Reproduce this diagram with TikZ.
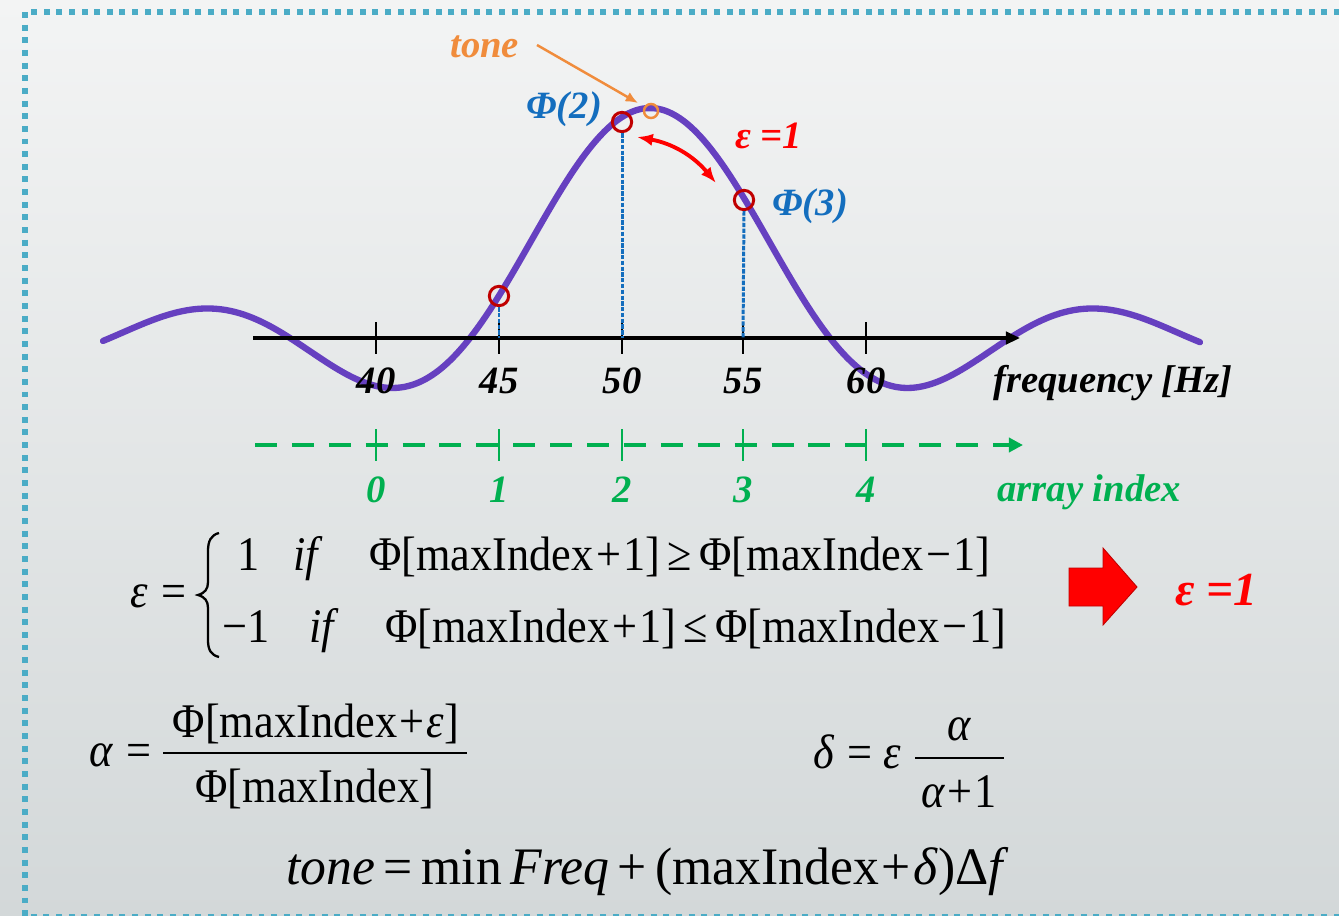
\documentclass[tikz,border=0pt]{standalone}
\usepackage{fontspec}
\setmainfont{Liberation Serif}
\usepackage{graphicx}
\usetikzlibrary{arrows.meta,calc}
\definecolor{curvecol}{RGB}{102,64,192}
\definecolor{circred}{RGB}{192,0,0}
\definecolor{toneor}{RGB}{240,140,60}
\definecolor{phiblue}{RGB}{20,110,190}
\definecolor{idxgreen}{RGB}{0,176,80}
\definecolor{frameblue}{RGB}{75,172,198}
\definecolor{bgtop}{RGB}{243,244,244}
\definecolor{bgbot}{RGB}{211,216,217}
\definecolor{arrred}{RGB}{255,0,0}
\newcommand\hsc[1]{\scalebox{0.917}[1]{#1}}
\newcommand\fpl{\kern1.5pt+\kern1.5pt}
\newcommand\fmi{\kern1.5pt−\kern1.5pt}
\tikzset{
  lab/.style={font=\fontsize{22}{26}\selectfont\bfseries\itshape, inner sep=0pt},
  fml/.style={font=\fontsize{27.5}{32}\selectfont, inner sep=0pt},
  fmlb/.style={font=\fontsize{30}{35}\selectfont, inner sep=0pt},
  framestyle/.style={draw=frameblue, line width=3.4pt, dash pattern=on 3.4pt off 3.8pt},
  axisline/.style={line width=2.5pt, -{Triangle[length=8pt,width=7pt]}},
  ticks/.style={line width=1.4pt},
  gdash/.style={idxgreen, line width=2.8pt, dash pattern=on 12.5pt off 8.5pt, -{Triangle[length=8pt,width=8pt]}},
  gtick/.style={idxgreen, line width=1.4pt},
  rc/.style={circle, draw=circred, line width=1.7pt, minimum size=11pt, inner sep=0pt},
  oc/.style={circle, draw=toneor, line width=1.4pt, minimum size=8pt, inner sep=0pt},
  bdash/.style={phiblue, line width=1.7pt, dash pattern=on 2.5pt off 0.8pt},
  orarrow/.style={toneor, line width=1.4pt, -{Latex[length=7pt,width=6pt]}},
  redarr/.style={arrred, line width=2.2pt, {Latex[length=9pt,width=7pt]}-{Latex[length=9pt,width=7pt]}},
  fbar/.style={line width=1.1pt},
}
\begin{document}
\begin{tikzpicture}[x=0.02cm,y=-0.02cm]
\useasboundingbox (0,0) rectangle (1339,916);
\clip (0,0) rectangle (1339,916);
\shade[top color=bgtop,bottom color=bgbot] (0,0) rectangle (1339,916);
\draw[framestyle] (25,12) rectangle (1365,917);

% curve
\draw[curvecol, line width=3.6pt, line cap=round] plot[domain=103:1200, samples=221, smooth] (\x,{338-230*sin(\x-650)/(pi*(\x-650)/180)});

% axis
\coordinate (axs) at (253,338);
\coordinate (axe) at (1020,338);
\draw[axisline] (axs) -- (axe);
\coordinate (gs) at (255,445);
\coordinate (ge) at (1023,445);
\draw[gdash] (gs) -- (ge);
\foreach \xx/\f/\i in {376/40/0, 499/45/1, 622/50/2, 743/55/3, 866/60/4} {
  \coordinate (t\f) at (\xx,338);
  \draw[ticks] (\xx,322) -- (\xx,354);
  \draw[gtick] (\xx,429) -- (\xx,461);
  \node[lab, anchor=base] (lf\f) at (\xx,393) {\f};
  \node[lab, anchor=base, text=idxgreen] (li\i) at (\xx,502) {\i};
}
\node[lab, anchor=base west] (freq) at (993,392) {frequency [\textit{Hz}]};
\node[lab, anchor=base west, text=idxgreen] (aidx) at (997,501) {array index};

% circles
\node[rc] (c1) at (499,296) {};
\node[rc] (c2) at (622,122) {};
\node[rc] (c3) at (744,200) {};
\node[oc] (ct) at (651,111) {};
\draw[bdash] (c1.south) -- (t45);
\draw[bdash] (c2.south) -- (t50);
\draw[bdash] (c3.south) -- (t55);

% labels top
\node[lab, anchor=base west, text=toneor] (tonelab) at (450,57) {tone};
\node[lab, anchor=base west, text=phiblue] (phi2) at (526,118) {Φ(2)};
\node[lab, anchor=base west, text=phiblue] (phi3) at (772,215) {Φ(3)};
\node[lab, anchor=base west, text=arrred] (eps1) at (735,148) {ε =1};
\coordinate (oa) at (537,45);
\coordinate (ob) at (638,103);
\draw[orarrow] (oa) -- (ob);
\coordinate (ea) at (637,137);
\coordinate (eb) at (716,183);
\draw[redarr] (ea) to[bend left=20] (eb);

% formula 1
\node[fml, anchor=base west] (epsl) at (130,607) {\hsc{\textit{ε}}};
\node[fml, anchor=base west] (eq1) at (161,607) {\hsc{=}};
\draw[line width=1.3pt] (219,533) .. controls (211,535) and (208,541) .. (208,551) -- (208,582) .. controls (208,589) and (205,593) .. (198,595) .. controls (205,597) and (208,601) .. (208,608) -- (208,640) .. controls (208,650) and (211,655) .. (219,657);
\node[fml, anchor=base west] (r1a) at (237,570) {\hsc{1}};
\node[fml, anchor=base west] (r1b) at (293,570) {\hsc{\textit{if}}};
\node[fml, anchor=base west] (r1c) at (369,570) {\hsc{Φ[maxIndex\fpl1]\,≥\,Φ[maxIndex\fmi1]}};
\node[fml, anchor=base west] (r2a) at (222,642) {\hsc{−1}};
\node[fml, anchor=base west] (r2b) at (309,642) {\hsc{\textit{if}}};
\node[fml, anchor=base west] (r2c) at (385,642) {\hsc{Φ[maxIndex\fpl1]\,≤\,Φ[maxIndex\fmi1]}};

% red block arrow and result
\draw[fill=arrred, draw=circred, line width=0.5pt] (1069,568) -- (1103,568) -- (1103,548) -- (1137,587) -- (1103,625) -- (1103,606) -- (1069,606) -- cycle;
\node[anchor=base west, inner sep=0pt, font=\fontsize{27}{32}\selectfont\bfseries\itshape, text=arrred] (epsr) at (1175,605) {ε =1};

% formula 2
\node[fml, anchor=base west] (alpha) at (89,766) {\hsc{\textit{α}}};
\node[fml, anchor=base west] (eq2) at (126,766) {\hsc{=}};
\draw[fbar] (163,753) -- (467,753);
\node[fml, anchor=base] (num) at (316,737) {\hsc{Φ[maxIndex\fpl\textit{ε}]}};
\node[fml, anchor=base] (den) at (315,802) {\hsc{Φ[maxIndex]}};

% formula 3
\node[fml, anchor=base west] (delta) at (813,768) {\hsc{\textit{δ}}};
\node[fml, anchor=base west] (eq3) at (847,768) {\hsc{=}};
\node[fml, anchor=base west] (eps3) at (883,768) {\hsc{\textit{ε}}};
\draw[fbar] (915,758) -- (1004,758);
\node[fml, anchor=base] (dnum) at (959,740) {\hsc{\textit{α}}};
\node[fml, anchor=base] (dden) at (959,807) {\hsc{\textit{α}\fpl1}};

% formula 4
\node[fmlb, anchor=base west] (tonef) at (286,884) {\scalebox{0.98}[1]{\textit{tone}\,=\,min\,\textit{Freq}\,+\,(maxIndex\fpl\textit{δ})Δ\textit{f}}};
\end{tikzpicture}
\end{document}
